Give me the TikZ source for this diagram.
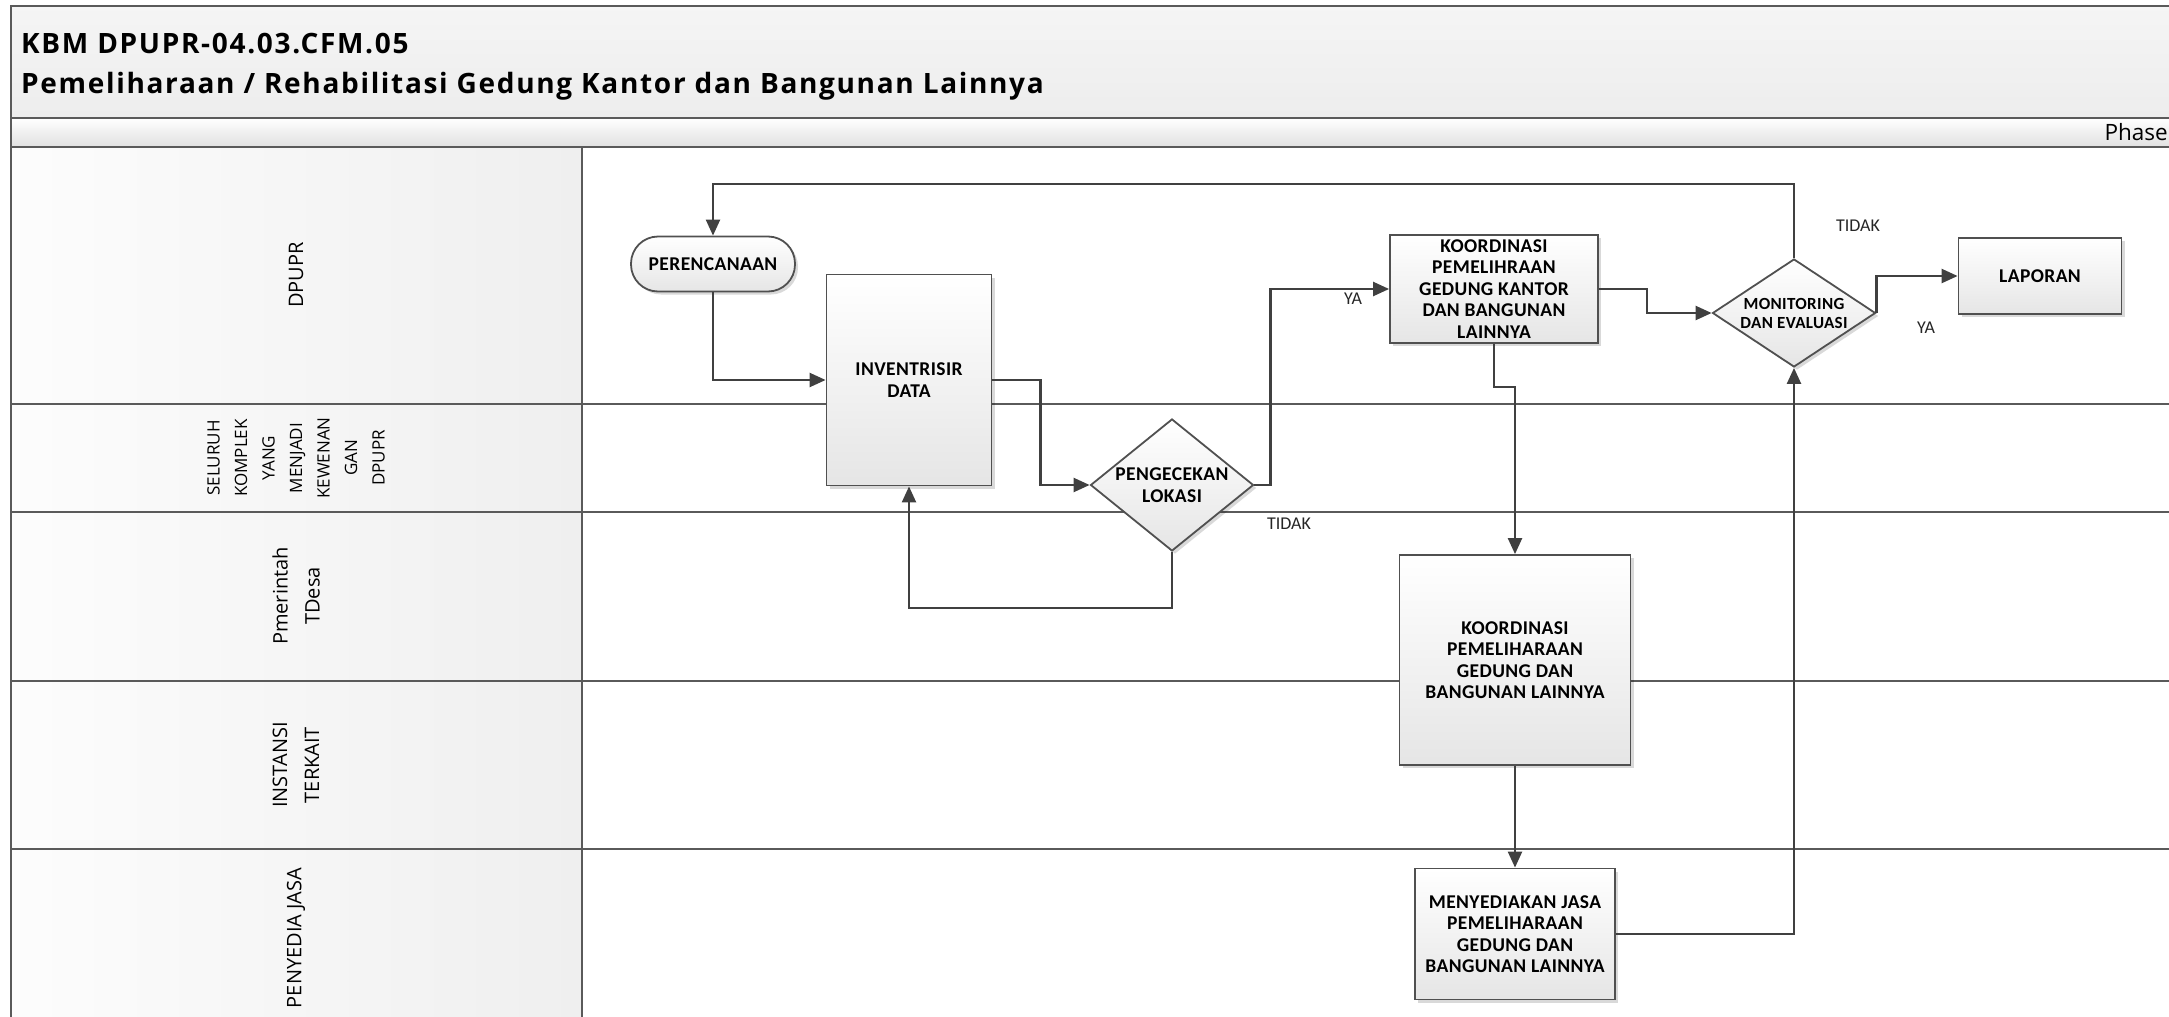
\documentclass[tikz,border=0pt]{standalone}
\usepackage{fontspec}
\setmainfont{Carlito}
\newfontfamily\boxfont{Carlito}[LetterSpace=2]
\newfontfamily\lanefont{Open Sans}
\newfontfamily\titlefont{Open Sans}[LetterSpace=6]
\usepackage{tikz}
\usetikzlibrary{shapes.geometric,arrows.meta,shadows}

\definecolor{linegray}{HTML}{404040}
\definecolor{framegray}{HTML}{5A5A5A}
\definecolor{boxgray}{HTML}{505050}
\definecolor{bandgray}{HTML}{EDEDED}
\definecolor{cellgray}{HTML}{EFEFEF}

\tikzset{
  frame/.style={draw=framegray, line width=2pt},
  box/.style={draw=boxgray, line width=1.8pt, top color=white, bottom color=cellgray!96!black,
    align=center, inner sep=0pt, font=\boxfont\bfseries\fontsize{19.5}{21.5}\selectfont,
    drop shadow={shadow xshift=3pt, shadow yshift=-3pt, fill=black, opacity=.15}},
  terminal/.style={box, rounded corners=27pt},
  process/.style={box},
  decision/.style={box, diamond},
  flow/.style={draw=linegray, line width=2.3pt, -{Triangle[length=16pt,width=14pt]}},
  answer/.style={font=\fontsize{18}{20}\selectfont, text=black!85, inner sep=0pt},
  lanelabel/.style={rotate=90, align=center, inner sep=0pt, font=\lanefont\fontsize{20}{32}\selectfont},
  title/.style={anchor=base west, inner sep=0pt, font=\titlefont\bfseries\fontsize{28}{32}\selectfont}
}

\begin{document}
\begin{tikzpicture}[x=1pt, y=-1pt]

  \clip (0,0) rectangle (2169,1017);

  % header
  \draw[frame, top color=white!96!black, bottom color=bandgray] (11,6) rectangle (2200,118);
  \draw[frame, top color=white, bottom color=white!88!black] (11,118) rectangle (2200,147);
  \node[title] (t1) at (21,53) {KBM DPUPR-04.03.CFM.05};
  \node[title] (t2) at (21,93) {Pemeliharaan / Rehabilitasi Gedung Kantor dan Bangunan Lainnya};
  \node[anchor=base east, inner sep=0pt, font=\lanefont\fontsize{22.5}{26}\selectfont] (phase) at (2168,140) {Phase};

  % lanes
  \foreach \ya/\yb in {147/404, 404/512, 512/681, 681/849, 849/1040}
    \draw[frame, left color=white!99!black, right color=cellgray] (11,\ya) rectangle (582,\yb);
  \foreach \yy in {404,512,681,849}
    \draw[frame] (582,\yy) -- (2200,\yy);
  \draw[frame] (582,147) -- (582,1040);

  \node[lanelabel] (dpupr) at (296,275) {DPUPR};
  \node[lanelabel, font=\lanefont\fontsize{17}{27.5}\selectfont] (komplek) at (296,458)
    {SELURUH\\KOMPLEK\\YANG\\MENJADI\\KEWENAN\\GAN\\DPUPR};
  \node[lanelabel] (desa) at (296,596) {Pmerintah\\TDesa};
  \node[lanelabel] (instansi) at (296,765) {INSTANSI\\TERKAIT};
  \node[lanelabel] (penyedia) at (296,938) {PENYEDIA JASA};

  % steps
  \node[terminal, minimum width=164pt, minimum height=55pt] (plan) at (713,264) {PERENCANAAN};
  \node[process, minimum width=165pt, minimum height=211pt] (inv) at (909,380) {INVENTRISIR\\DATA};
  \node[decision, minimum width=163pt, minimum height=132pt, aspect=1.235] (cek) at (1172,485) {PENGECEKAN\\LOKASI};
  \node[process, minimum width=208pt, minimum height=108pt] (koor) at (1494,289)
    {KOORDINASI\\PEMELIHRAAN\\GEDUNG KANTOR\\DAN BANGUNAN\\LAINNYA};
  \node[decision, minimum width=163pt, minimum height=108pt, aspect=1.51,
    font=\boxfont\bfseries\fontsize{17}{19}\selectfont] (mon) at (1794,313) {MONITORING\\DAN EVALUASI};
  \node[process, minimum width=163pt, minimum height=76pt] (lap) at (2040,276) {LAPORAN};
  \node[process, minimum width=231pt, minimum height=210pt] (koor2) at (1515,660)
    {KOORDINASI\\PEMELIHARAAN\\GEDUNG DAN\\BANGUNAN LAINNYA};
  \node[process, minimum width=200pt, minimum height=131pt] (jasa) at (1515,934)
    {MENYEDIAKAN JASA\\PEMELIHARAAN\\GEDUNG DAN\\BANGUNAN LAINNYA};

  % connectors
  \draw[flow] (plan.south) |- (inv.west);
  \draw[flow] (inv.east) -- ++(48,0) |- (cek.west);
  \draw[flow] (cek.south) -- ++(0,56) -| (inv.south);
  \draw[flow] (cek.east) -- ++(16,0) |- (koor.west);
  \draw[flow] (koor.east) -- ++(48,0) |- (mon.west);
  \draw[flow] (mon.north) -- ++(0,-74) -| (plan.north);
  \draw[flow] (mon.east) |- (lap.west);
  \draw[flow] (koor.south) -- ++(0,43) -| ([xshift=21pt]koor.south |- koor2.north);
  \draw[flow] (koor2.south) -- (jasa.north);
  \draw[flow] (jasa.east) -| (mon.south);

  \node[answer] (ya1) at (1353,299) {YA};
  \node[answer] (tidak1) at (1289,524) {TIDAK};
  \node[answer] (tidak2) at (1858,226) {TIDAK};
  \node[answer] (ya2) at (1926,328) {YA};

\end{tikzpicture}
\end{document}
